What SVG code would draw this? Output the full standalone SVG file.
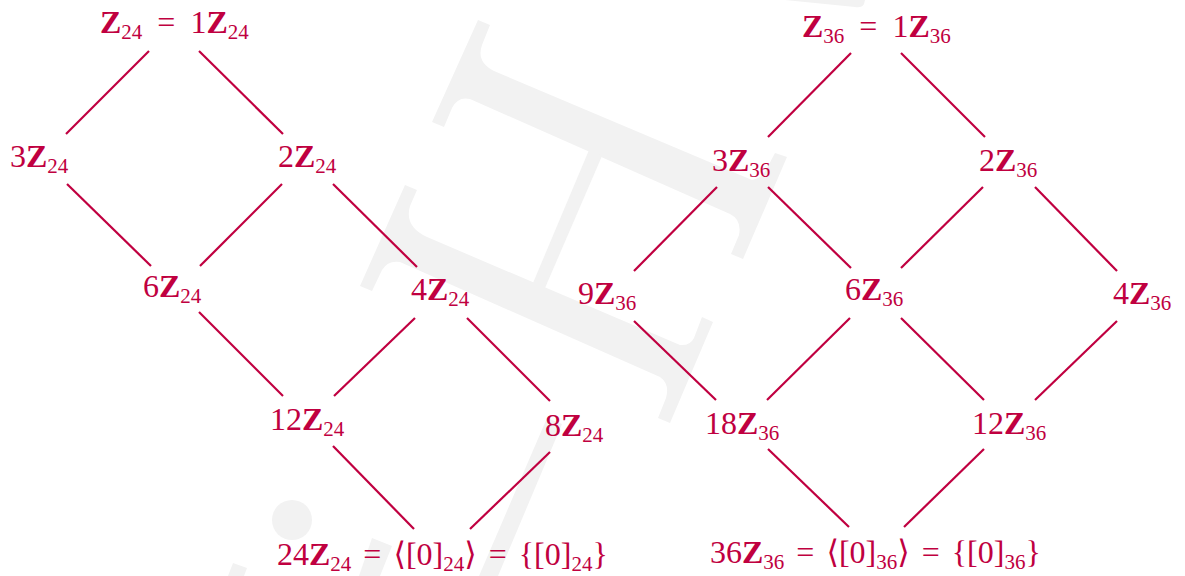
<svg xmlns="http://www.w3.org/2000/svg" width="1185" height="576" viewBox="0 0 1185 576">
<style>
.t{font-family:"Liberation Serif","DejaVu Serif",serif;font-size:32px;fill:#c00040}
.b{font-weight:bold}
.s{font-size:21px}
.e line{stroke:#c00040;stroke-width:2.2;stroke-linecap:butt}
.wm{fill:#f2f2f2}
</style>
<rect width="1185" height="576" fill="#ffffff"/>
<g id="watermark" class="wm">
<path d="M478,20 L490,25 L482,45 Q476,62 494,71 L752,180 Q762,178 766,170 L775,153 L787,157 L743,259 L731,254 L739,235 Q742,220 730,214 L470,99 Q458,96 452,108 L444,127 L432,122 Z"/>
<path d="M589,150 L602,156 L545,288 L533,283 Z"/>
<path d="M405,185 L417,190 L410,206 Q404,226 427,237 L680,345 Q690,346 694,338 L702,317 L713,322 L670,423 L658,418 L666,398 Q670,384 660,377 L400,262 Q388,260 382,270 L372,291 L360,286 Z"/>
<path d="M547,418 L562,424 L498,576 L479,576 Z"/>
<circle cx="292" cy="520" r="20"/>
<path d="M372,538 L392,546 L380,576 L359,576 Z"/>
<path d="M233,563 L247,568 L244,576 L228,576 Z"/>
<path d="M785,0 L865,0 L864,4 Q862,8 855,7 Z"/>
</g>
<g id="connectors" class="e">
<line x1="149" y1="51" x2="66" y2="134"/>
<line x1="199" y1="51" x2="283" y2="134"/>
<line x1="67" y1="184" x2="151" y2="266"/>
<line x1="282" y1="184" x2="200" y2="266"/>
<line x1="333" y1="184" x2="417" y2="267"/>
<line x1="199" y1="312" x2="283" y2="396"/>
<line x1="415" y1="318" x2="334" y2="396"/>
<line x1="467" y1="318" x2="550" y2="401"/>
<line x1="333" y1="446" x2="414" y2="529"/>
<line x1="550" y1="452" x2="470" y2="529"/>
<line x1="851" y1="53" x2="768" y2="137"/>
<line x1="901" y1="53" x2="985" y2="137"/>
<line x1="717" y1="187" x2="634" y2="271"/>
<line x1="768" y1="187" x2="851" y2="268"/>
<line x1="983" y1="187" x2="901" y2="268"/>
<line x1="1035" y1="187" x2="1117" y2="271"/>
<line x1="634" y1="321" x2="716" y2="400"/>
<line x1="850" y1="318" x2="767" y2="400"/>
<line x1="901" y1="318" x2="984" y2="400"/>
<line x1="1117" y1="321" x2="1035" y2="400"/>
<line x1="768" y1="449" x2="849" y2="527"/>
<line x1="984" y1="449" x2="904" y2="527"/>
</g>
<g id="L1"><text class="t" x="100" y="33"><tspan class="b">Z</tspan><tspan class="s" dy="6">24</tspan><tspan dx="15" dy="-6">=</tspan><tspan dx="15">1</tspan><tspan class="b">Z</tspan><tspan class="s" dy="6">24</tspan></text></g>
<g id="L3"><text class="t" x="10" y="167">3<tspan class="b">Z</tspan><tspan class="s" dy="6">24</tspan></text></g>
<g id="L2"><text class="t" x="278" y="167">2<tspan class="b">Z</tspan><tspan class="s" dy="6">24</tspan></text></g>
<g id="L6"><text class="t" x="143" y="297">6<tspan class="b">Z</tspan><tspan class="s" dy="6">24</tspan></text></g>
<g id="L4"><text class="t" x="411" y="300">4<tspan class="b">Z</tspan><tspan class="s" dy="6">24</tspan></text></g>
<g id="L12"><text class="t" x="270" y="430">12<tspan class="b">Z</tspan><tspan class="s" dy="6">24</tspan></text></g>
<g id="L8"><text class="t" x="545" y="436">8<tspan class="b">Z</tspan><tspan class="s" dy="6">24</tspan></text></g>
<g id="L24"><text class="t" x="277" y="565">24<tspan class="b">Z</tspan><tspan class="s" dy="6">24</tspan><tspan dx="12" dy="-6">=</tspan><tspan dx="12">⟨[0]</tspan><tspan class="s" dy="6">24</tspan><tspan dy="-6">⟩</tspan><tspan dx="12">=</tspan><tspan dx="12">{[0]</tspan><tspan class="s" dy="6">24</tspan><tspan dy="-6">}</tspan></text></g>
<g id="R1"><text class="t" x="802" y="37"><tspan class="b">Z</tspan><tspan class="s" dy="6">36</tspan><tspan dx="15" dy="-6">=</tspan><tspan dx="15">1</tspan><tspan class="b">Z</tspan><tspan class="s" dy="6">36</tspan></text></g>
<g id="R3"><text class="t" x="712" y="171">3<tspan class="b">Z</tspan><tspan class="s" dy="6">36</tspan></text></g>
<g id="R2"><text class="t" x="979" y="171">2<tspan class="b">Z</tspan><tspan class="s" dy="6">36</tspan></text></g>
<g id="R9"><text class="t" x="578" y="304">9<tspan class="b">Z</tspan><tspan class="s" dy="6">36</tspan></text></g>
<g id="R6"><text class="t" x="845" y="300">6<tspan class="b">Z</tspan><tspan class="s" dy="6">36</tspan></text></g>
<g id="R4"><text class="t" x="1113" y="304">4<tspan class="b">Z</tspan><tspan class="s" dy="6">36</tspan></text></g>
<g id="R18"><text class="t" x="705" y="434">18<tspan class="b">Z</tspan><tspan class="s" dy="6">36</tspan></text></g>
<g id="R12"><text class="t" x="972" y="434">12<tspan class="b">Z</tspan><tspan class="s" dy="6">36</tspan></text></g>
<g id="R36"><text class="t" x="710" y="563">36<tspan class="b">Z</tspan><tspan class="s" dy="6">36</tspan><tspan dx="12" dy="-6">=</tspan><tspan dx="12">⟨[0]</tspan><tspan class="s" dy="6">36</tspan><tspan dy="-6">⟩</tspan><tspan dx="12">=</tspan><tspan dx="12">{[0]</tspan><tspan class="s" dy="6">36</tspan><tspan dy="-6">}</tspan></text></g>
</svg>
